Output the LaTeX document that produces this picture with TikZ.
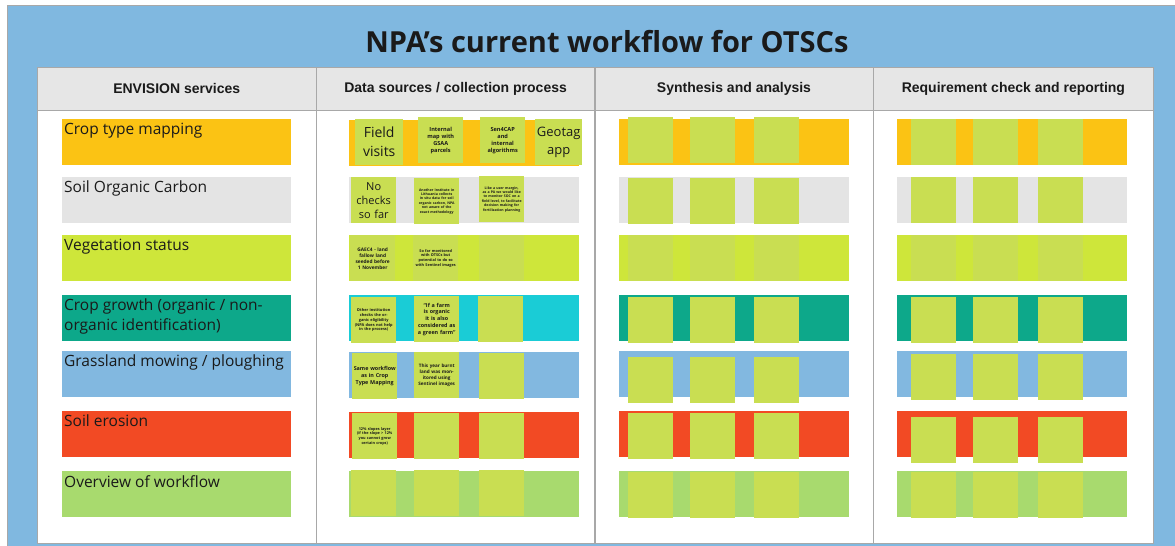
\documentclass[tikz,border=0pt]{standalone}
\usepackage{fontspec}
\setmainfont{Open Sans}
\setsansfont{Liberation Sans}
\usetikzlibrary{positioning}

\definecolor{frameblue}{HTML}{80B8E0}
\definecolor{headgray}{HTML}{E6E6E6}
\definecolor{linegray}{HTML}{A8A8A8}
\definecolor{inkdark}{HTML}{1A1A1A}
\definecolor{ctmorange}{HTML}{FBC314}
\definecolor{socgray}{HTML}{E4E4E4}
\definecolor{veglime}{HTML}{CEE63A}
\definecolor{growteal}{HTML}{0DA88A}
\definecolor{growcyan}{HTML}{1ACCD6}
\definecolor{grassblue}{HTML}{82B8E0}
\definecolor{erosred}{HTML}{F24A24}
\definecolor{overgreen}{HTML}{A8DA6E}
\definecolor{sticky}{HTML}{C9DE52}

\tikzset{
  headcell/.style={draw=linegray, fill=headgray, anchor=north west, inner sep=0pt,
    minimum height=43pt, font=\sffamily\bfseries\fontsize{14}{16}\selectfont, text=inkdark},
  bodycell/.style={draw=linegray, fill=white, inner sep=0pt, minimum height=433pt},
  bar/.style={anchor=north west, inner sep=0pt, minimum width=230pt, minimum height=46pt},
  barlabel/.style={anchor=north west, inner xsep=2pt, inner ysep=4pt, text=inkdark, align=left,
    font=\fontsize{15.5}{20}\selectfont},
  stickynote/.style={anchor=north west, fill=sticky, inner sep=1pt, minimum width=45pt,
    minimum height=46pt, text width=43pt, align=center, text=inkdark},
  tiny/.style={font=\bfseries\fontsize{#1pt}{\dimexpr #1pt*5/4\relax}\selectfont},
}

\begin{document}
\begin{tikzpicture}[x=1pt, y=-1pt]
\useasboundingbox (0,0) rectangle (1175,546);
\fill[white] (0,0) rectangle (1175,546);
\filldraw[fill=frameblue, draw=linegray] (7,5) rectangle (1176,547);

\node[font=\bfseries\fontsize{29}{34}\selectfont, text=inkdark] (title) at (607,42) {NPA's current workflow for OTSCs};

\node[headcell, minimum width=279pt] (hEnv) at (37,67) {ENVISION services};
\node[headcell, minimum width=278pt, right=0pt of hEnv] (hData) {Data sources / collection process};
\node[headcell, minimum width=278pt, right=0pt of hData] (hSyn) {Synthesis and analysis};
\node[headcell, minimum width=280pt, right=0pt of hSyn] (hReq) {Requirement check and reporting};
\node[bodycell, minimum width=279pt, below=0pt of hEnv] (cEnv) {};
\node[bodycell, minimum width=278pt, below=0pt of hData] (cData) {};
\node[bodycell, minimum width=278pt, below=0pt of hSyn] (cSyn) {};
\node[bodycell, minimum width=280pt, below=0pt of hReq] (cReq) {};

\foreach \n/\y/\c/\t in {1/119/ctmorange/{Crop type mapping}, 2/177/socgray/{Soil Organic Carbon},
    3/235/veglime/{Vegetation status}, 4/295/growteal/{Crop growth (organic / non-\\organic identification)},
    5/351/grassblue/{Grassland mowing / ploughing}, 6/411/erosred/{Soil erosion},
    7/471/overgreen/{Overview of workflow}} {
  \node[bar, fill=\c, minimum width=229pt] (env\n) at (62,\y) {};
  \node[barlabel] (envt\n) at (env\n.north west) {\t};
}

\foreach \n/\y/\c in {1/120/ctmorange, 2/177/socgray, 3/235/veglime, 4/295/growcyan,
    5/352/grassblue, 6/412/erosred, 7/471/overgreen}
  \node[bar, fill=\c] (data\n) at (349,\y) {};

\node[stickynote, minimum width=48pt, text width=46pt, font=\fontsize{14}{19}\selectfont] (d1a) at (355,119) {Field\\visits};
\node[stickynote, tiny=5.6] (d1b) at (418,117) {Internal\\map with\\GSAA\\parcels};
\node[stickynote, tiny=5.6] (d1c) at (480,117) {Sen4CAP\\and\\internal\\algorithms};
\node[stickynote, text width=45pt, font=\fontsize{13}{18}\selectfont] (d1d) at (535,119) {Geotag\\app};

\node[stickynote, font=\fontsize{11}{14}\selectfont] (d2a) at (351,177) {No\\checks\\so far};
\node[stickynote, tiny=3.5] (d2b) at (414,178) {Another Institute in Lithuania collects in situ data for soil organic carbon, NPA not aware of the exact methodology};
\node[stickynote, tiny=3.5] (d2c) at (479,176) {Like a user margin, as a PA we would like to monitor SOC on a field level, to facilitate decision making for fertilization planning};

\node[stickynote, tiny=4.8] (d3a) at (350,235) {GAEC4 - land fallow land seeded before 1 November};
\node[stickynote, tiny=3.8] (d3b) at (413,235) {So far monitored with OTSCs but potential to do so with Sentinel images};
\node[stickynote] (d3c) at (479,235) {};

\node[stickynote, tiny=3.9] (d4a) at (351,297) {Other institution checks the organic eligibility (NPA does not help in the process)};
\node[stickynote, tiny=5.4] (d4b) at (414,296) {``If a farm is organic it is also considered as a green farm''};
\node[stickynote] (d4c) at (478,296) {};

\node[stickynote, tiny=5.4] (d5a) at (352,353) {Same workflow as in Crop Type Mapping};
\node[stickynote, tiny=4.6] (d5b) at (414,352) {This year burnt land was monitored using Sentinel images};
\node[stickynote] (d5c) at (479,353) {};

\node[stickynote, tiny=3.8] (d6a) at (352,413) {12\% slopes layer (if the slope > 12\% you cannot grow certain crops)};
\node[stickynote] (d6b) at (414,413) {};
\node[stickynote] (d6c) at (479,413) {};

\node[stickynote] (d7a) at (351,470) {};
\node[stickynote] (d7b) at (414,470) {};
\node[stickynote] (d7c) at (479,470) {};

\foreach \n/\y/\c/\a/\b in {1/119/ctmorange/-2/0, 2/177/socgray/1/0, 3/235/veglime/0/0,
    4/295/growteal/2/2, 5/351/grassblue/6/3, 6/411/erosred/2/6, 7/471/overgreen/1/1} {
  \node[bar, fill=\c] (syn\n) at (619,\y) {};
  \node[bar, fill=\c] (req\n) at (897,\y) {};
  \foreach \k/\dx in {1/9, 2/71, 3/135}
    \node[stickynote] (syn\n-\k) at ([shift={(\dx,\a)}]syn\n.north west) {};
  \foreach \k/\dx in {1/14, 2/76, 3/141}
    \node[stickynote] (req\n-\k) at ([shift={(\dx,\b)}]req\n.north west) {};
}
\end{tikzpicture}
\end{document}
